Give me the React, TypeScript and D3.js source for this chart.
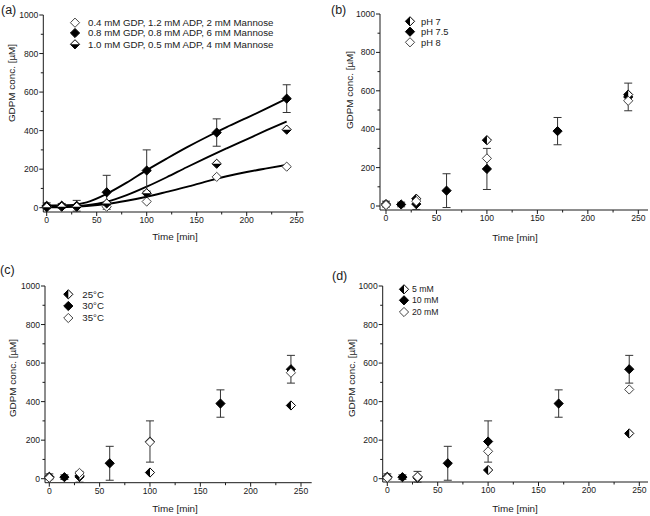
import React from "react";
import * as d3 from "d3";

// ---------- data ----------
const times = [0, 15, 30, 60, 100, 170, 240];
const subTimes = [0, 30, 100, 240];

// panel (a)
const aOpen = [5, 10, 5, 5, 32, 160, 213];
const aFilled = [10, 10, 10, 80, 193, 390, 566];
const aHalf = [2, 5, 5, 22, 75, 228, 405];
const filledErr = [15, 12, 28, 88, 107, 71, 72];

const fitTimes = [0, 20, 40, 60, 80, 100, 120, 140, 160, 180, 200, 220, 240];
const fitFilled = [12, 13, 28, 72, 130, 195, 255, 313, 367, 418, 466, 515, 566];
const fitHalf = [5, 6, 13, 31, 65, 109, 158, 210, 260, 308, 355, 402, 447];
const fitOpen = [2, 4, 9, 19, 36, 57, 82, 108, 137, 163, 185, 204, 222];

const aLegend = [
  "0.4 mM GDP, 1.2 mM ADP, 2 mM Mannose",
  "0.8 mM GDP, 0.8 mM ADP, 6 mM Mannose",
  "1.0 mM GDP, 0.5 mM ADP, 4 mM Mannose",
];

// filled reference series used in (b)-(d)
const refFilled = [10, 8, 10, 80, 193, 390, 568];

// panel (b)
const bHalf = [5, 38, 343, 580];
const bOpen = [5, 25, 248, 548];
const bLegend = ["pH 7", "pH 7.5", "pH 8"];

// panel (c)
const cHalf = [5, 15, 32, 380];
const cOpen = [5, 30, 190, 550];
const cLegend = ["25°C", "30°C", "35°C"];

// panel (d)
const dHalf = [5, 5, 45, 235];
const dOpen = [5, 10, 142, 463];
const dLegend = ["5 mM", "10 mM", "20 mM"];

const xTicks = [0, 50, 100, 150, 200, 250];
const xMinor = [25, 75, 125, 175, 225];
const yTicks = [0, 200, 400, 600, 800, 1000];
const yMinor = [100, 300, 500, 700, 900];

const FONT = "'Liberation Sans', Arial, sans-serif";
const INK = "#1a1a1a";

type Geo = {
  x0: number; x250: number; axL: number; axR: number;
  y0: number; y1000: number; axB: number;
  label: string; lx: number; ly: number;
  xtx: number; xty: number; yty: number; ytx: number;
  legX: number; legTX: number; legY: number[]; legFS: number;
};

function Diamond({ cx, cy, kind, split }: { cx: number; cy: number; kind: string; split: string }) {
  const r = 4.6;
  const outline = `M${cx},${cy - r}L${cx + r},${cy}L${cx},${cy + r}L${cx - r},${cy}Z`;
  let half = "";
  if (kind === "half") {
    half = split === "h"
      ? `M${cx - r},${cy}L${cx + r},${cy}L${cx},${cy + r}Z`
      : `M${cx},${cy - r}L${cx - r},${cy}L${cx},${cy + r}Z`;
  }
  return (
    <g>
      <path d={outline} fill={kind === "filled" ? "#000" : "#fff"} stroke={kind === "open" ? "#444" : "#000"} strokeWidth={1} />
      {half && <path d={half} fill="#000" />}
    </g>
  );
}

type Series = { t: number[]; v: number[]; kind: string; err?: number[] };

function Panel({ g, series, legend, legendKinds, split, fits }: {
  g: Geo; series: Series[]; legend: string[]; legendKinds: string[]; split: string;
  fits?: number[][];
}) {
  const x = d3.scaleLinear().domain([0, 250]).range([g.x0, g.x250]);
  const y = d3.scaleLinear().domain([0, 1000]).range([g.y0, g.y1000]);
  const line = d3.line<number>()
    .x((_, i) => x(fitTimes[i]))
    .y((d) => y(d))
    .curve(d3.curveMonotoneX);
  return (
    <g fontFamily={FONT} fill={INK}>
      <text x={g.lx} y={g.ly} fontSize={12.5}>{g.label}</text>
      {/* axes */}
      <line x1={g.axL} x2={g.axR} y1={g.axB} y2={g.axB} stroke={INK} strokeWidth={1} />
      <line x1={g.axL} x2={g.axL} y1={g.axB} y2={g.y1000} stroke={INK} strokeWidth={1} />
      {xTicks.map((t) => (
        <g key={"xt" + t}>
          <line x1={x(t)} x2={x(t)} y1={g.axB} y2={g.axB + 4} stroke={INK} />
          <text x={x(t)} y={g.axB + 11} fontSize={8.6} textAnchor="middle">{t}</text>
        </g>
      ))}
      {xMinor.map((t) => (
        <line key={"xm" + t} x1={x(t)} x2={x(t)} y1={g.axB} y2={g.axB + 2.5} stroke={INK} />
      ))}
      {yTicks.map((v) => (
        <g key={"yt" + v}>
          <line x1={g.axL - 4} x2={g.axL} y1={y(v)} y2={y(v)} stroke={INK} />
          <text x={g.axL - 5} y={y(v) + 3} fontSize={8.6} textAnchor="end">{v}</text>
        </g>
      ))}
      {yMinor.map((v) => (
        <line key={"ym" + v} x1={g.axL - 2.5} x2={g.axL} y1={y(v)} y2={y(v)} stroke={INK} />
      ))}
      <text x={g.xtx} y={g.xty} fontSize={9.9} textAnchor="middle">Time [min]</text>
      <text transform={`translate(${g.ytx},${g.yty}) rotate(-90)`} fontSize={9.9} textAnchor="middle">GDPM conc. [µM]</text>
      {/* fits */}
      {fits && fits.map((f, i) => (
        <path key={"fit" + i} d={line(f) || ""} fill="none" stroke="#000" strokeWidth={1.9} />
      ))}
      {/* error bars */}
      {series.filter((s) => s.err).map((s, si) => (
        <g key={"err" + si}>
          {s.t.map((t, i) => {
            const e = s.err![i];
            const top = y(s.v[i] + e), bot = y(s.v[i] - e);
            return (
              <g key={i} stroke="#333" strokeWidth={1}>
                <line x1={x(t)} x2={x(t)} y1={top} y2={bot} />
                <line x1={x(t) - 4} x2={x(t) + 4} y1={top} y2={top} />
                <line x1={x(t) - 4} x2={x(t) + 4} y1={bot} y2={bot} />
              </g>
            );
          })}
        </g>
      ))}
      {series.map((s, si) => (
        <g key={"s" + si}>
          {s.t.map((t, i) => (
            <Diamond key={i} cx={x(t)} cy={y(s.v[i])} kind={s.kind} split={split} />
          ))}
        </g>
      ))}
      {/* legend */}
      {legend.map((l, i) => (
        <g key={"lg" + i}>
          <Diamond cx={g.legX} cy={g.legY[i]} kind={legendKinds[i]} split={split} />
          <text x={g.legTX} y={g.legY[i] + g.legFS * 0.36} fontSize={g.legFS}>{l}</text>
        </g>
      ))}
    </g>
  );
}

const geoA: Geo = {
  x0: 46.7, x250: 296.7, axL: 43.3, axR: 303.3, y0: 207.7, y1000: 15, axB: 212,
  label: "(a)", lx: 1, ly: 14, xtx: 175, xty: 240, ytx: 15, yty: 83,
  legX: 75, legTX: 88, legY: [22.7, 33, 44.3], legFS: 9.7,
};
const geoB: Geo = {
  x0: 386, x250: 638.3, axL: 380, axR: 648, y0: 206, y1000: 14, axB: 210,
  label: "(b)", lx: 331, ly: 14, xtx: 515, xty: 241, ytx: 353, yty: 90,
  legX: 410, legTX: 421, legY: [21.3, 31.7, 42.3], legFS: 9.3,
};
const geoC: Geo = {
  x0: 49.3, x250: 301, axL: 45, axR: 311.7, y0: 478.7, y1000: 286, axB: 482.7,
  label: "(c)", lx: 0, ly: 274, xtx: 175, xty: 512, ytx: 16, yty: 378,
  legX: 68.3, legTX: 82.3, legY: [294.3, 306, 318], legFS: 9.7,
};
const geoD: Geo = {
  x0: 387.3, x250: 639.3, axL: 382.7, axR: 648, y0: 478.7, y1000: 286, axB: 482,
  label: "(d)", lx: 332, ly: 280, xtx: 515, xty: 512, ytx: 355, yty: 378,
  legX: 404, legTX: 412, legY: [289.3, 300.3, 312], legFS: 8.7,
};

export default function App() {
  return (
    <svg width={650} height={516} style={{ position: "absolute", left: 0, top: 0, background: "#fff" }}>
      <Panel
        g={geoA}
        split="h"
        fits={[fitFilled, fitHalf, fitOpen]}
        series={[
          { t: times, v: aOpen, kind: "open" },
          { t: times, v: aFilled, kind: "filled", err: filledErr },
          { t: times, v: aHalf, kind: "half" },
        ]}
        legend={aLegend}
        legendKinds={["open", "filled", "half"]}
      />
      <Panel
        g={geoB}
        split="v"
        series={[
          { t: times, v: refFilled, kind: "filled", err: filledErr },
          { t: subTimes, v: bHalf, kind: "half" },
          { t: subTimes, v: bOpen, kind: "open" },
        ]}
        legend={bLegend}
        legendKinds={["half", "filled", "open"]}
      />
      <Panel
        g={geoC}
        split="v"
        series={[
          { t: times, v: refFilled, kind: "filled", err: filledErr },
          { t: subTimes, v: cHalf, kind: "half" },
          { t: subTimes, v: cOpen, kind: "open" },
        ]}
        legend={cLegend}
        legendKinds={["half", "filled", "open"]}
      />
      <Panel
        g={geoD}
        split="v"
        series={[
          { t: times, v: refFilled, kind: "filled", err: filledErr },
          { t: subTimes, v: dHalf, kind: "half" },
          { t: subTimes, v: dOpen, kind: "open" },
        ]}
        legend={dLegend}
        legendKinds={["half", "filled", "open"]}
      />
    </svg>
  );
}
